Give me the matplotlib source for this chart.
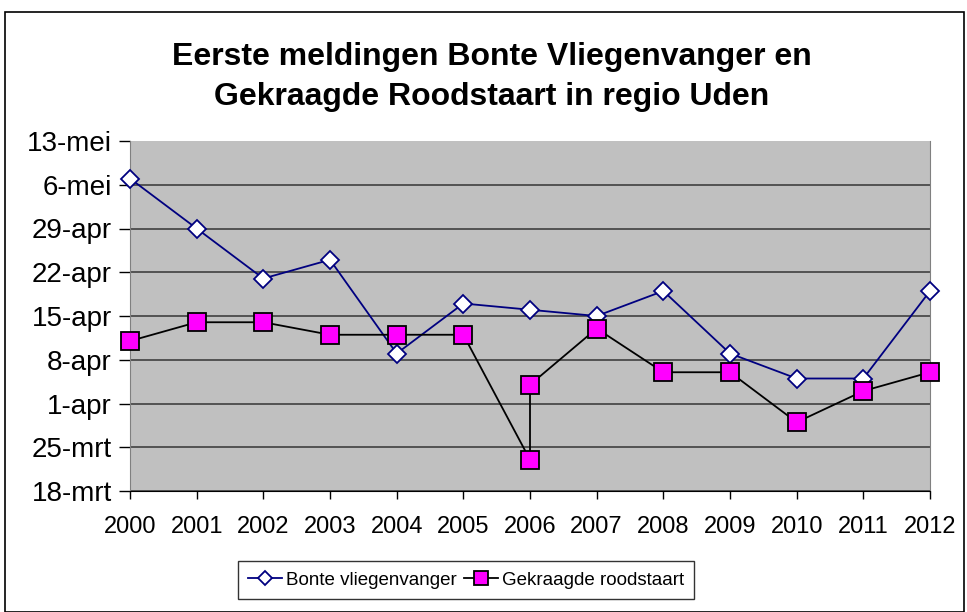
import matplotlib
matplotlib.use("Agg")
import matplotlib.pyplot as plt
import matplotlib.patches as mpatches
import numpy as np
import pandas as pd

plt.rcParams['font.family'] = ['Liberation Sans', 'DejaVu Sans']

title = "Eerste meldingen Bonte Vliegenvanger en\nGekraagde Roodstaart in regio Uden"

years_bonte = [2000, 2001, 2002, 2003, 2004, 2005, 2006, 2007, 2008, 2009, 2010, 2011, 2012]
dates_bonte = ["05-07", "04-29", "04-21", "04-24", "04-09", "04-17", "04-16",
               "04-15", "04-19", "04-09", "04-05", "04-05", "04-19"]

years_rood = [2000, 2001, 2002, 2003, 2004, 2005, 2006, 2006, 2007, 2008, 2009, 2010, 2011, 2012]
dates_rood = ["04-11", "04-14", "04-14", "04-12", "04-12", "04-12", "03-23", "04-04",
              "04-13", "04-06", "04-06", "03-29", "04-03", "04-06"]

tick_dates = ["03-18", "03-25", "04-01", "04-08", "04-15", "04-22", "04-29", "05-06", "05-13"]
tick_labels = ["18-mrt", "25-mrt", "1-apr", "8-apr", "15-apr", "22-apr", "29-apr", "6-mei", "13-mei"]

series_names = ["Bonte vliegenvanger", "Gekraagde roodstaart"]


def to_day(md):
    return pd.Timestamp("2001-" + md).dayofyear


yb = [to_day(d) for d in dates_bonte]
yr = [to_day(d) for d in dates_rood]
yt = [to_day(d) for d in tick_dates]

fig = plt.figure(figsize=(9.67, 6.12), dpi=100)
ax = fig.add_axes([130 / 967, 1 - 491 / 612, 800 / 967, 350 / 612])
ax.set_facecolor("#c0c0c0")

for y in yt[:-1]:
    ax.axhline(y, color="#404040", lw=1.2, zorder=1)

ax.plot(years_bonte, yb, color="#000080", lw=1.3, marker="D", markersize=9,
        markerfacecolor="white", markeredgecolor="#000080", markeredgewidth=1.3,
        zorder=3, label=series_names[0], clip_on=False)
ax.plot(years_rood, yr, color="black", lw=1.3, marker="s", markersize=13,
        markerfacecolor="#ff00ff", markeredgecolor="black", markeredgewidth=1.3,
        zorder=4, label=series_names[1], clip_on=False)

ax.set_xlim(2000, 2012)
ax.set_ylim(yt[0], yt[-1])
ax.set_xticks(years_bonte)
ax.set_xticklabels([str(y) for y in years_bonte], fontsize=17)
ax.set_yticks(yt)
ax.set_yticklabels(tick_labels, fontsize=20)
ax.tick_params(axis="y", direction="out", length=8, width=1, pad=5)
ax.tick_params(axis="x", direction="out", length=6, width=1, pad=12)

ax.spines["top"].set_visible(False)
ax.spines["right"].set_color("#808080")
ax.spines["left"].set_color("#808080")
ax.spines["bottom"].set_color("black")

fig.text(492 / 967, 1 - 77 / 612, title, ha="center", va="center", fontsize=23,
         fontweight="bold", linespacing=1.4)

leg = fig.legend(loc="center", bbox_to_anchor=(466 / 967, 1 - 580 / 612), ncol=2,
                 fontsize=13.5, frameon=True, fancybox=False, edgecolor="black",
                 handlelength=1.8, handletextpad=0.2, columnspacing=0.4,
                 borderpad=0.55, markerscale=0.75)
leg.get_frame().set_linewidth(1.0)

fig.patches.append(mpatches.Rectangle((5 / 967, 0), 959 / 967, 1 - 12 / 612,
                                      transform=fig.transFigure, fill=False,
                                      edgecolor="black", lw=1.2))

fig.savefig("out.png", dpi=100)
